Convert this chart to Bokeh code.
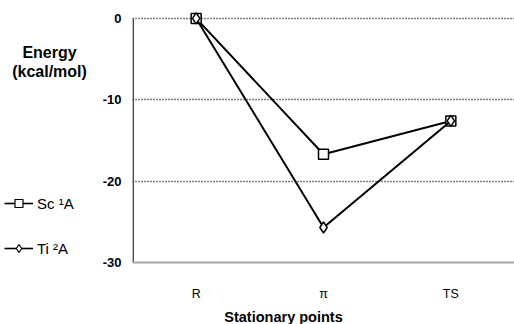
from bokeh.plotting import figure
from bokeh.models import FactorRange, Range1d, FixedTicker, Legend, LegendItem
from bokeh.layouts import row, column
from bokeh.core.properties import value
from bokeh.embed import file_html
from bokeh.resources import INLINE

# Energy profile along the reaction coordinate
stages = ["R", "π", "TS"]
sc_energy = [0.0, -16.7, -12.6]
ti_energy = [0.0, -25.7, -12.6]
y_ticks = [-30, -20, -10, 0]
grid_ticks = [-20, -10, 0]
series_names = ["Sc ¹A", "Ti ²A"]
y_title = ["Energy", "(kcal/mol)"]
x_title = "Stationary points"

FONT = "Liberation Sans"
TOP_H = 303      # height of the chart row
SIDE_W = 95      # width of the left strip holding the y title and legend
NAN = float("nan")


def blank(fig):
    fig.outline_line_color = None
    fig.background_fill_color = "white"
    fig.border_fill_color = "white"
    fig.xaxis.visible = False
    fig.yaxis.visible = False
    fig.grid.visible = False
    fig.min_border = 0


# ---- main chart -------------------------------------------------------------
p = figure(
    width=514 - SIDE_W, height=TOP_H,
    x_range=FactorRange(factors=stages),
    y_range=Range1d(-30, 0.85),
    output_backend="svg", toolbar_location=None,
    min_border_left=37, min_border_right=0,
    min_border_top=11, min_border_bottom=34,
)
p.outline_line_color = None
p.background_fill_color = "white"
p.border_fill_color = "white"

p.yaxis.ticker = FixedTicker(ticks=y_ticks)
p.yaxis.major_label_overrides = {t: str(t) for t in y_ticks}
p.yaxis.axis_line_color = None
p.yaxis.major_tick_line_color = None
p.yaxis.minor_tick_line_color = None
p.yaxis.major_label_standoff = 5
p.yaxis.major_label_text_font = FONT
p.yaxis.major_label_text_font_style = "bold"
p.yaxis.major_label_text_font_size = "13px"
p.yaxis.major_label_text_color = "black"

p.xaxis.axis_line_color = "#a4a4a4"
p.xaxis.axis_line_width = 2
p.xaxis.major_tick_line_color = None
p.xaxis.minor_tick_line_color = None
p.xaxis.major_label_standoff = 18
p.xaxis.major_label_text_font = FONT
p.xaxis.major_label_text_font_size = "12.5px"
p.xaxis.major_label_text_color = "black"

p.xgrid.visible = False
p.ygrid.ticker = FixedTicker(ticks=grid_ticks)
p.ygrid.grid_line_color = "black"
p.ygrid.grid_line_dash = "1 2"
p.ygrid.grid_line_width = 1.3

# vertical axis line from -30 up to 0
p.segment(x0=[(stages[0], -0.495)], y0=[y_ticks[0]], x1=[(stages[0], -0.495)], y1=[y_ticks[-1]],
          line_color="#333333", line_width=1.5)

sc_style = dict(marker="square", size=10)
ti_style = dict(marker="diamond", size=11)

p.line(stages, sc_energy, line_color="black", line_width=2)
p.scatter(stages, sc_energy, fill_color="white", line_color="black", line_width=1.5, **sc_style)
p.line(stages, ti_energy, line_color="black", line_width=2)
p.scatter(stages, ti_energy, fill_color="white", line_color="black", line_width=1.5, **ti_style)

# ---- left strip: y title and legend -----------------------------------------
side = figure(width=SIDE_W, height=TOP_H, x_range=Range1d(0, SIDE_W), y_range=Range1d(TOP_H, 0),
              output_backend="svg", toolbar_location=None)
blank(side)
side.text(x=[49, 49], y=[50, 72], text=y_title, text_font=value(FONT), text_font_style="bold",
          text_font_size="16px", text_align="center", text_baseline="middle", text_color="black")

# legend swatches: renderers styled like the chart's series (no visible points)
sc_l = side.line(x=[NAN], y=[NAN], line_color="black", line_width=1.6)
sc_m = side.scatter(x=[NAN], y=[NAN], fill_color="white", line_color="black", line_width=1.2, **sc_style)
ti_l = side.line(x=[NAN], y=[NAN], line_color="black", line_width=1.6)
ti_m = side.scatter(x=[NAN], y=[NAN], fill_color="white", line_color="black", line_width=1.2, **ti_style)

legend = Legend(
    items=[LegendItem(label=series_names[0], renderers=[sc_l, sc_m]),
           LegendItem(label=series_names[1], renderers=[ti_l, ti_m])],
    location=(4, 4),
    glyph_width=29, glyph_height=20, label_height=20,
    spacing=25, padding=0, margin=0, label_standoff=4,
    border_line_color=None, background_fill_alpha=0,
    label_text_font=FONT, label_text_font_size="15px", label_text_color="black",
)
side.add_layout(legend)

# ---- bottom strip: x title --------------------------------------------------
bottom = figure(width=514, height=324 - TOP_H, x_range=Range1d(0, 514), y_range=Range1d(324 - TOP_H, 0),
                output_backend="svg", toolbar_location=None)
blank(bottom)
bottom.text(x=[283], y=[13], text=[x_title], text_font=value(FONT), text_font_style="bold",
            text_font_size="14.5px", text_align="center", text_baseline="middle", text_color="black")

layout = column(row(side, p, spacing=0), bottom, spacing=0)
open("out.html", "w").write(file_html(layout, INLINE))
